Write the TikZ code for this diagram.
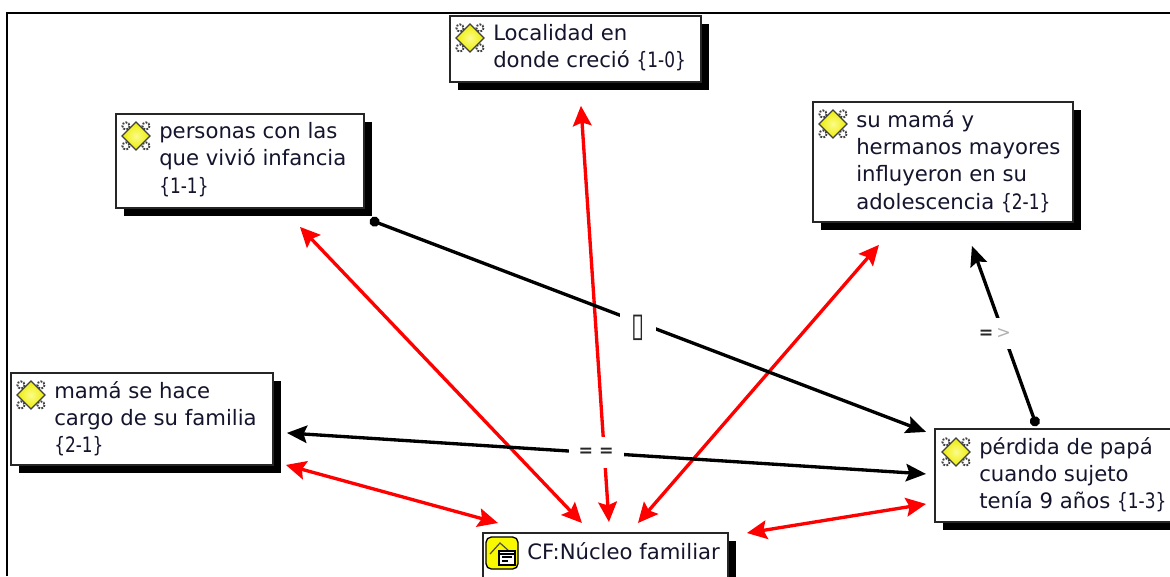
\documentclass[tikz,border=0pt]{standalone}
\usepackage{fontspec}
\setmainfont{DejaVu Sans}
\usepackage{xcolor}
\usepackage{graphicx}
\usepackage{tikz}
\usetikzlibrary{arrows.meta,shadows}
\definecolor{codeink}{HTML}{14142C}
\definecolor{linkred}{HTML}{FF0000}
\definecolor{labelgray}{HTML}{B0B0B0}
\definecolor{iconyellow}{HTML}{F8F800}
\newcommand{\qcount}[1]{\scalebox{.8}[1]{\{#1\}}}
\tikzset{
  codeicon/.pic={
    \foreach \sx in {-1,1} \foreach \sy in {-1,1}
      \draw[black!75,densely dotted,line width=1.4pt] (\sx*10,\sy*10) circle (3.6);
    \draw[black!75,line width=1pt,inner color=white!55!iconyellow,outer color=iconyellow!90!olive] (0,-14) -- (14,0) -- (0,14) -- (-14,0) -- cycle;
  },
  familyicon/.pic={
    \draw[black,line width=1pt,fill=iconyellow,rounded corners=4] (-16,-16) rectangle (16,16);
    \draw[black!70,line width=.9pt] (-12,1) -- (-2,-10) -- (7,-2);
    \draw[black,line width=.9pt,fill=white] (-3,-2) rectangle (13,12);
    \draw[black,line width=.9pt] (-3,1) -- (13,1) (0,4) -- (10,4) (0,8) -- (6,8);
  },
}
\begin{document}
\begin{tikzpicture}[x=0.75pt,y=-0.75pt,
    boxnode/.style={draw=black!85,line width=1.4pt,fill=white,anchor=north west,inner sep=0pt,
      drop shadow={shadow xshift=6.4pt,shadow yshift=-6pt,opacity=1,fill=black}},
    textnode/.style={anchor=north west,inner sep=0pt,align=left,text=codeink,font=\fontsize{15.9}{20.5}\selectfont},
    redlink/.style={draw=linkred,line width=2.5pt,{Stealth[length=15pt,width=14pt,inset=2.5pt]}-{Stealth[length=15pt,width=14pt,inset=2.5pt]}},
    blacklink/.style={draw=black,line width=2.5pt,-{Stealth[length=15pt,width=13pt,inset=2.5pt]}},
    dotlink/.style={draw=black,line width=2.5pt,{Circle[length=7.5pt]}-{Stealth[length=15pt,width=13pt,inset=2.5pt]}},
    linklabel/.style={fill=white,inner sep=0pt,minimum width=27pt,minimum height=23pt,text=black!85,font=\fontsize{13}{15}\bfseries},
  ]
  \useasboundingbox (0,0) rectangle (1170,576);
  \clip (0,0) rectangle (1170,576);
  \draw[black,line width=2pt] (7,576) -- (7,13) -- (1170,13);

  \node[boxnode,minimum width=188.25pt,minimum height=49.5pt] (localidad) at (449,15) {};
  \node[boxnode,minimum width=186pt,minimum height=70.5pt] (personas) at (115,113) {};
  \node[boxnode,minimum width=195pt,minimum height=90pt] (sumama) at (812,101) {};
  \node[boxnode,minimum width=196.5pt,minimum height=69pt] (mamafam) at (10,372) {};
  \node[boxnode,minimum width=184pt,minimum height=69.75pt] (perdida) at (934,428) {};
  \node[boxnode,minimum width=183.75pt,minimum height=45pt] (nucleo) at (482,532) {};

  \node[textnode] (localidadtxt) at ([shift={(44,9)}]localidad.north west) {Localidad en\\donde creció \qcount{1-0}};
  \node[textnode] (personastxt) at ([shift={(44,9)}]personas.north west) {personas con las\\que vivió infancia\\\qcount{1-1}};
  \node[textnode] (sumamatxt) at ([shift={(44,9)}]sumama.north west) {su mamá y\\hermanos mayores\\influyeron en su\\adolescencia \qcount{2-1}};
  \node[textnode] (mamafamtxt) at ([shift={(44,9)}]mamafam.north west) {mamá se hace\\cargo de su familia\\\qcount{2-1}};
  \node[textnode] (perdidatxt) at ([shift={(45,9)}]perdida.north west) {pérdida de papá\\cuando sujeto\\tenía 9 años \qcount{1-3}};
  \node[textnode] (nucleotxt) at ([shift={(45,10)}]nucleo.north west) {CF:Núcleo familiar};

  \pic at ([shift={(21,23)}]localidad.north west) {codeicon};
  \pic at ([shift={(21,23)}]personas.north west) {codeicon};
  \pic at ([shift={(21,23)}]sumama.north west) {codeicon};
  \pic at ([shift={(21,23)}]mamafam.north west) {codeicon};
  \pic at ([shift={(22,24)}]perdida.north west) {codeicon};
  \pic at ([shift={(20,21)}]nucleo.north west) {familyicon};

  \draw[redlink] ([shift={(-23.5,-9)}]nucleo.north) -- ([shift={(60,18)}]personas.south);
  \draw[redlink] ([shift={(3.5,-10)}]nucleo.north) -- ([shift={(5.5,23)}]localidad.south);
  \draw[redlink] ([shift={(32.5,-9)}]nucleo.north) -- ([shift={(-64,22)}]sumama.south);
  \draw[redlink] ([shift={(12,46)}]mamafam.east) -- ([shift={(-107.5,-9)}]nucleo.north);
  \draw[redlink] ([shift={(141.5,1)}]nucleo.north) -- ([shift={(-8,28.5)}]perdida.west);

  \draw[dotlink] ([shift={(130,11)}]personas.south) -- node[linklabel,pos=.482,yshift=-4pt,font=\fontsize{25}{27}\selectfont] (causa) {\scalebox{.72}[1]{▯}} ([shift={(-8,-43.5)}]perdida.west);
  \draw[blacklink,{Stealth[length=15pt,width=13pt,inset=2.5pt]}-{Stealth[length=15pt,width=13pt,inset=2.5pt]}] ([shift={(13,14)}]mamafam.east) -- node[linklabel,pos=.484,minimum width=41pt] (igual) {= =} ([shift={(-8,-1.5)}]perdida.west);
  \draw[dotlink] ([shift={(-21,-2)}]perdida.north) -- node[linklabel,pos=.5,xshift=-7pt,yshift=2pt] (lleva) {=\,{\mdseries\color{labelgray}>}} ([shift={(29,23)}]sumama.south);
\end{tikzpicture}
\end{document}
